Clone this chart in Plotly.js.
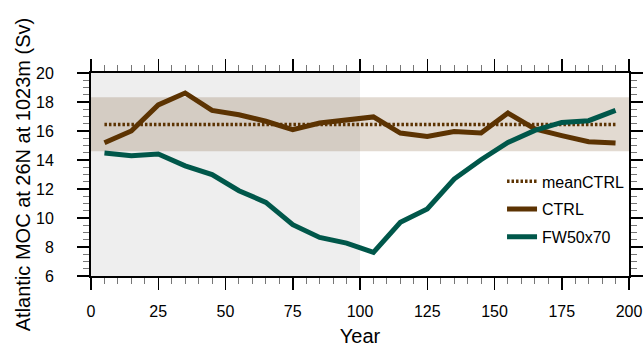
<!DOCTYPE html>
<html>
<head>
<meta charset="utf-8">
<script src="https://cdn.plot.ly/plotly-3.0.1.min.js"></script>
<style>html,body{margin:0;padding:0;background:#fff}#chart{width:643px;height:350px}</style>
</head>
<body>
<div id="chart"></div>
<script>
// Data
var years = [5,15,25,35,45,55,65,75,85,95,105,115,125,135,145,155,165,175,185,195];
var ctrl = [15.19,16.00,17.80,18.62,17.42,17.12,16.67,16.09,16.55,16.78,16.97,15.86,15.63,15.97,15.86,17.24,16.14,15.68,15.26,15.17];
var fw50x70 = [14.48,14.30,14.41,13.60,12.99,11.88,11.08,9.54,8.66,8.27,7.63,9.70,10.62,12.69,14.02,15.21,16.04,16.59,16.71,17.42];
var meanCTRL = 16.45;
var bandLow = 14.6;
var bandHigh = 18.32;
var hosingStart = 0;
var hosingEnd = 100;
var xTickVals = [0,25,50,75,100,125,150,175,200];
var yTickVals = [6,8,10,12,14,16,18,20];

var brown = '#5c3302';
var teal = '#00574a';
var font = 'Liberation Sans, Arial, Helvetica, sans-serif';

var traces = [
  {x: years, y: years.map(function(){return meanCTRL;}), name: 'meanCTRL', mode: 'lines',
   line: {color: brown, width: 3.5, dash: '2.5px,2px'}, legendgroup: 'a'},
  {x: years, y: ctrl, name: 'CTRL', mode: 'lines',
   line: {color: brown, width: 5}, legendgroup: 'b'},
  {x: years, y: fw50x70, name: 'FW50x70', mode: 'lines',
   line: {color: teal, width: 5}, legendgroup: 'c'}
];

var axisCommon = {
  showline: true, linecolor: '#000', linewidth: 2, mirror: 'allticks',
  ticks: 'outside', tickcolor: '#000', tickwidth: 1.5, ticklen: 12,
  showgrid: false, zeroline: false,
  tickfont: {family: font, size: 16, color: '#000'}
};

var layout = {
  width: 643, height: 350,
  margin: {l: 91, r: 14, t: 73, b: 74},
  paper_bgcolor: '#fff', plot_bgcolor: '#fff',
  font: {family: font, color: '#000'},
  showlegend: true,
  legend: {x: 0.764, y: 0.55, xanchor: 'left', yanchor: 'top', bgcolor: 'rgba(0,0,0,0)',
           font: {family: font, size: 16, color: '#000'}, tracegroupgap: 4, itemwidth: 30},
  xaxis: Object.assign({}, axisCommon, {
    range: [0, 200], tickvals: xTickVals, ticktext: xTickVals.map(String), ticklabelstandoff: 8,
    minor: {dtick: 5, tick0: 0, ticks: 'outside', ticklen: 6, tickcolor: '#777', tickwidth: 1},
    title: {text: 'Year', font: {family: font, size: 20, color: '#000'}, standoff: 10}
  }),
  yaxis: Object.assign({}, axisCommon, {
    range: [6, 20], tickvals: yTickVals, ticktext: yTickVals.map(String), ticklabelstandoff: 20,
    minor: {dtick: 0.5, tick0: 6, ticks: 'outside', ticklen: 6, tickcolor: '#777', tickwidth: 1},
    title: {text: 'Atlantic MOC at 26N at 1023m (Sv)', font: {family: font, size: 20, color: '#000'}, standoff: 0}
  }),
  shapes: [
    {type: 'rect', layer: 'below', xref: 'x', yref: 'paper', x0: hosingStart, x1: hosingEnd, y0: 0, y1: 1,
     fillcolor: '#eeeeee', line: {width: 0}},
    {type: 'rect', layer: 'below', xref: 'paper', yref: 'y', x0: 0, x1: 1, y0: bandLow, y1: bandHigh,
     fillcolor: 'rgba(92,51,2,0.18)', line: {width: 0}}
  ]
};

Plotly.newPlot('chart', traces, layout, {staticPlot: true, displayModeBar: false});
</script>
</body>
</html>
